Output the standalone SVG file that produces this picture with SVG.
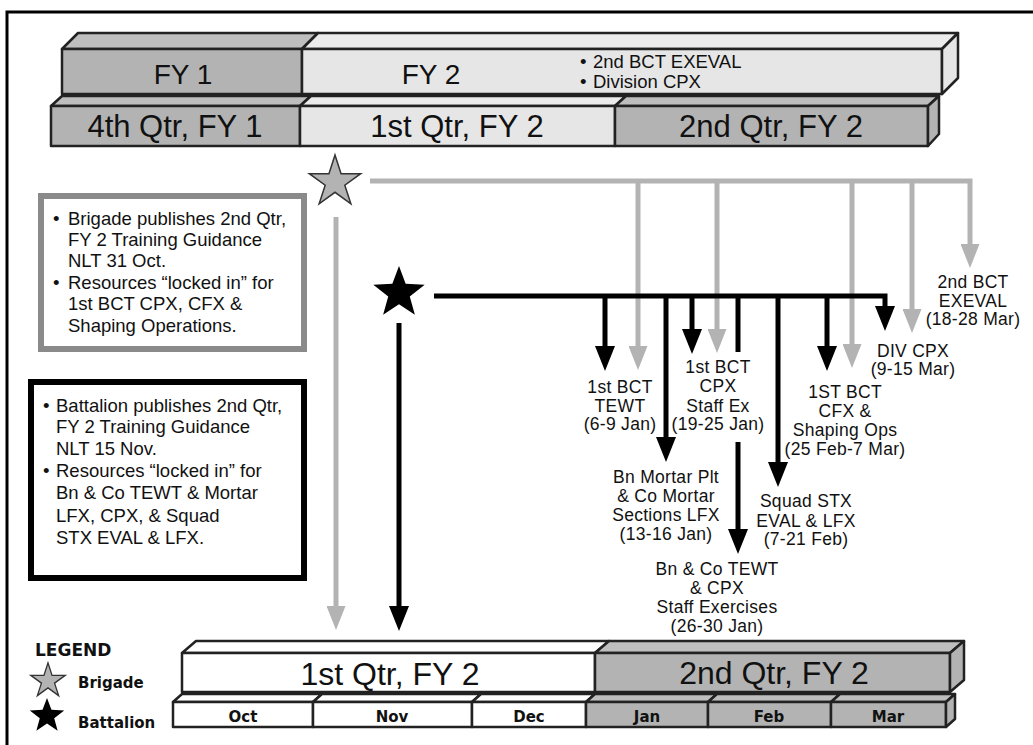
<svg xmlns="http://www.w3.org/2000/svg" width="1033" height="745" viewBox="0 0 1033 745">
<style>
.t{font-family:"Liberation Sans",Arial,Helvetica,sans-serif;fill:#111}
.lbl{font-size:17.5px;letter-spacing:0.3px;text-anchor:middle}
.box{font-size:18.5px}
.big{font-size:28px;text-anchor:middle}
.qb{font-size:31px;text-anchor:middle}
.qb2{font-size:32px;text-anchor:middle}
.b{font-family:"DejaVu Sans",Verdana,sans-serif;font-weight:bold;fill:#111}
.mon{font-size:15px;text-anchor:middle}
.face{stroke:#222;stroke-width:2.5;stroke-linejoin:round}
.dk{fill:#b3b3b3}
.dkt{fill:#bebebe}
.lt{fill:#e6e6e6}
.ltt{fill:#ececec}
.wh{fill:#ffffff}
.g{fill:none;stroke:#b3b3b3;stroke-width:5}
.k{fill:none;stroke:#000;stroke-width:5}
</style>
<defs>
<marker id="ak" markerUnits="userSpaceOnUse" viewBox="0 0 25 20" markerWidth="25" markerHeight="20" refX="1" refY="10" orient="auto"><path d="M0,0 L25,10 L0,20 Z" fill="#000"/></marker>
<marker id="ag" markerUnits="userSpaceOnUse" viewBox="0 0 24 19" markerWidth="24" markerHeight="19" refX="1" refY="9.5" orient="auto"><path d="M0,0 L24,9.5 L0,19 Z" fill="#b3b3b3"/></marker>
<path id="starG" d="M0,-27 L6.05,-8.33 L25.68,-8.34 L9.8,3.18 L15.87,21.84 L0,10.3 L-15.87,21.84 L-9.8,3.18 L-25.68,-8.34 L-6.05,-8.33 Z"/>
<path id="starK" d="M0,-27 L6.65,-9.16 L25.68,-8.34 L10.77,3.5 L15.87,21.84 L0,11.3 L-15.87,21.84 L-10.77,3.5 L-25.68,-8.34 L-6.65,-9.16 Z"/>
</defs>
<rect x="0" y="0" width="1033" height="745" fill="#fff"/>
<rect x="7" y="12" width="1040" height="760" fill="none" stroke="#000" stroke-width="3"/>

<g id="fy-row">
<polygon class="face dkt" points="62,49 78,33 318,33 302,49"/>
<rect class="face dk" x="62" y="49" width="240" height="45"/>
<polygon class="face ltt" points="302,49 318,33 958,33 942,49"/>
<rect class="face lt" x="302" y="49" width="640" height="45"/>
<polygon class="face lt" points="942,49 958,33 958,78 942,94"/>
<text class="t big" x="183" y="84">FY 1</text>
<text class="t big" x="431" y="84">FY 2</text>
<text class="t box" x="580" y="68">•</text>
<text class="t box" x="593" y="68">2nd BCT EXEVAL</text>
<text class="t box" x="580" y="88">•</text>
<text class="t box" x="593" y="88">Division CPX</text>
</g>

<g id="qtr-row-top">
<polygon class="face dkt" points="51,106 62,96 311,96 300,106"/>
<rect class="face dk" x="51" y="106" width="249" height="40"/>
<polygon class="face ltt" points="300,106 311,96 626,96 615,106"/>
<rect class="face lt" x="300" y="106" width="315" height="40"/>
<polygon class="face dkt" points="615,106 626,96 939,96 928,106"/>
<rect class="face dk" x="615" y="106" width="313" height="40"/>
<polygon class="face dk" points="928,106 939,96 939,134 928,146"/>
<text class="t qb" x="175" y="137">4th Qtr, FY 1</text>
<text class="t qb" x="457" y="137">1st Qtr, FY 2</text>
<text class="t qb" x="771" y="137">2nd Qtr, FY 2</text>
</g>

<g id="brigade-box">
<rect x="41" y="196" width="263" height="153" fill="#fff" stroke="#8a8a8a" stroke-width="6"/>
<text class="t box" x="53" y="225">•</text>
<text class="t box" x="68" y="225">Brigade publishes 2nd Qtr,</text>
<text class="t box" x="68" y="246">FY 2 Training Guidance</text>
<text class="t box" x="68" y="267">NLT 31 Oct.</text>
<text class="t box" x="53" y="289">•</text>
<text class="t box" x="68" y="289">Resources “locked in” for</text>
<text class="t box" x="68" y="310">1st BCT CPX, CFX &amp;</text>
<text class="t box" x="68" y="332">Shaping Operations.</text>
</g>

<g id="battalion-box">
<rect x="31" y="382" width="273" height="196" fill="#fff" stroke="#000" stroke-width="6"/>
<text class="t box" x="43" y="412">•</text>
<text class="t box" x="56" y="412">Battalion publishes 2nd Qtr,</text>
<text class="t box" x="56" y="433">FY 2 Training Guidance</text>
<text class="t box" x="56" y="455">NLT 15 Nov.</text>
<text class="t box" x="43" y="477">•</text>
<text class="t box" x="56" y="477">Resources “locked in” for</text>
<text class="t box" x="56" y="499">Bn &amp; Co TEWT &amp; Mortar</text>
<text class="t box" x="56" y="522">LFX, CPX, &amp; Squad</text>
<text class="t box" x="56" y="544">STX EVAL &amp; LFX.</text>
</g>

<g id="connectors">
<path class="g" d="M370,181 H970 V245" marker-end="url(#ag)"/>
<path class="g" d="M638,181 V347" marker-end="url(#ag)"/>
<path class="g" d="M717,181 V330" marker-end="url(#ag)"/>
<path class="g" d="M852,181 V345" marker-end="url(#ag)"/>
<path class="g" d="M912,181 V310" marker-end="url(#ag)"/>
<path class="g" d="M336,217 V607" marker-end="url(#ag)"/>
<path class="k" d="M434,296 H885 V307" marker-end="url(#ak)"/>
<path class="k" d="M605,296 V347" marker-end="url(#ak)"/>
<path class="k" d="M666,296 V438" marker-end="url(#ak)"/>
<path class="k" d="M692,296 V330" marker-end="url(#ak)"/>
<path class="k" d="M738,296 V352"/>
<path class="k" d="M738,442 V530" marker-end="url(#ak)"/>
<path class="k" d="M778,296 V463" marker-end="url(#ak)"/>
<path class="k" d="M827,296 V347" marker-end="url(#ak)"/>
<path class="k" d="M399,323 V607" marker-end="url(#ak)"/>
</g>

<g id="brigade-star">
<use href="#starG" x="335" y="182" fill="#b3b3b3" stroke="#333" stroke-width="1.5"/>
</g>
<g id="battalion-star">
<use href="#starK" x="399" y="293" fill="#000"/>
</g>

<g id="labels">
<text class="t lbl" x="620"><tspan x="620" y="393">1st BCT</tspan><tspan x="620" y="412">TEWT</tspan><tspan x="620" y="430">(6-9 Jan)</tspan></text>
<text class="t lbl" x="718"><tspan x="718" y="373">1st BCT</tspan><tspan x="718" y="392">CPX</tspan><tspan x="718" y="412">Staff Ex</tspan><tspan x="718" y="430">(19-25 Jan)</tspan></text>
<text class="t lbl" x="666"><tspan x="666" y="483">Bn Mortar Plt</tspan><tspan x="666" y="502">&amp; Co Mortar</tspan><tspan x="666" y="521">Sections LFX</tspan><tspan x="666" y="540">(13-16 Jan)</tspan></text>
<text class="t lbl" x="806"><tspan x="806" y="507">Squad STX</tspan><tspan x="806" y="527">EVAL &amp; LFX</tspan><tspan x="806" y="545">(7-21 Feb)</tspan></text>
<text class="t lbl" x="717"><tspan x="717" y="575">Bn &amp; Co TEWT</tspan><tspan x="717" y="594">&amp; CPX</tspan><tspan x="717" y="613">Staff Exercises</tspan><tspan x="717" y="632">(26-30 Jan)</tspan></text>
<text class="t lbl" x="845"><tspan x="845" y="398">1ST BCT</tspan><tspan x="845" y="417">CFX &amp;</tspan><tspan x="845" y="436">Shaping Ops</tspan><tspan x="845" y="455">(25 Feb-7 Mar)</tspan></text>
<text class="t lbl" x="913"><tspan x="913" y="357">DIV CPX</tspan><tspan x="913" y="375">(9-15 Mar)</tspan></text>
<text class="t lbl" x="973"><tspan x="973" y="288">2nd BCT</tspan><tspan x="973" y="307">EXEVAL</tspan><tspan x="973" y="325">(18-28 Mar)</tspan></text>
</g>

<g id="qtr-row-bottom">
<polygon class="face wh" points="182,653 196,641 609,641 595,653"/>
<rect class="face wh" x="182" y="653" width="413" height="39"/>
<polygon class="face dkt" points="595,653 609,641 964,641 950,653"/>
<rect class="face dk" x="595" y="653" width="355" height="39"/>
<polygon class="face dk" points="950,653 964,641 964,680 950,692"/>
<text class="t qb2" x="390" y="685">1st Qtr, FY 2</text>
<text class="t qb2" x="774" y="684">2nd Qtr, FY 2</text>
</g>

<g id="month-row">
<polygon class="face wh" points="173,702 182,694 322,694 313,702"/>
<rect class="face wh" x="173" y="702" width="140" height="25"/>
<polygon class="face wh" points="313,702 322,694 481,694 472,702"/>
<rect class="face wh" x="313" y="702" width="159" height="25"/>
<polygon class="face wh" points="472,702 481,694 595,694 586,702"/>
<rect class="face wh" x="472" y="702" width="114" height="25"/>
<polygon class="face dkt" points="586,702 595,694 717,694 708,702"/>
<rect class="face dk" x="586" y="702" width="122" height="25"/>
<polygon class="face dkt" points="708,702 717,694 840,694 831,702"/>
<rect class="face dk" x="708" y="702" width="123" height="25"/>
<polygon class="face dkt" points="831,702 840,694 955,694 946,702"/>
<rect class="face dk" x="831" y="702" width="115" height="25"/>
<polygon class="face dk" points="946,702 955,694 955,719 946,727"/>
<text class="b mon" x="243" y="722">Oct</text>
<text class="b mon" x="392" y="722">Nov</text>
<text class="b mon" x="529" y="722">Dec</text>
<text class="b mon" x="647" y="722">Jan</text>
<text class="b mon" x="769" y="722">Feb</text>
<text class="b mon" x="888" y="722">Mar</text>
</g>

<g id="legend">
<text class="b" x="35" y="656" font-size="17">LEGEND</text>
<use href="#starG" transform="translate(48,681) scale(0.67)" fill="#b3b3b3" stroke="#333" stroke-width="2"/>
<text class="b" x="78" y="688" font-size="15">Brigade</text>
<use href="#starK" transform="translate(47,716) scale(0.67)" fill="#000"/>
<text class="b" x="78" y="728" font-size="15">Battalion</text>
</g>
</svg>
